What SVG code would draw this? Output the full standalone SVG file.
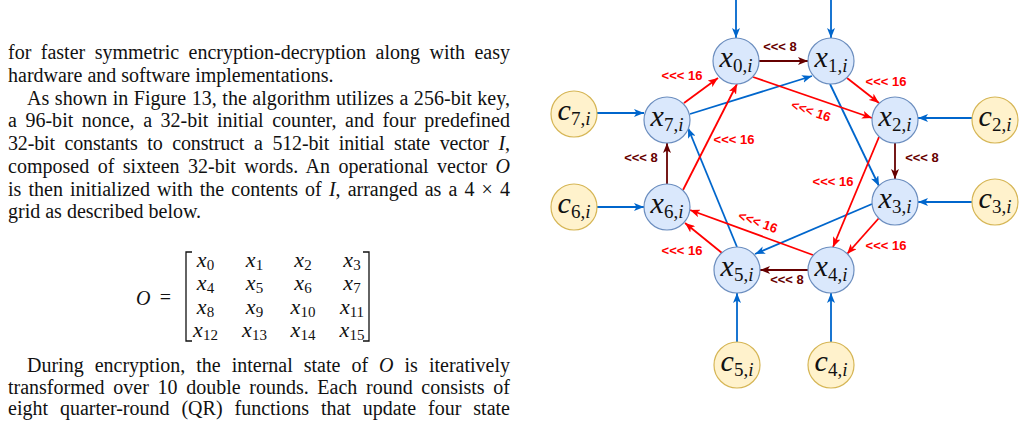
<svg xmlns="http://www.w3.org/2000/svg" width="1025" height="422" viewBox="0 0 1025 422">
<style>
.body{font-family:"Liberation Serif","Times New Roman",serif;font-size:20px;fill:#111}
.it{font-style:italic}
.mx{font-family:"Liberation Serif","Times New Roman",serif;font-size:22px;font-style:italic;fill:#111;text-anchor:middle}
.ms{font-size:15px;font-style:normal}
.xn{fill:#dae8fc;stroke:#6c8ebf;stroke-width:1.2}
.cn{fill:#fff2cc;stroke:#d6b656;stroke-width:1.2}
.nl{font-family:"Liberation Serif","Times New Roman",serif;text-anchor:middle;fill:#111}
.big{font-size:30px;font-style:italic}
.sub{font-size:19px}
.si{font-size:19px;font-style:italic}
.b{stroke:#0066cc;stroke-width:1.8;fill:none}
.r{stroke:#ff0000;stroke-width:1.8;fill:none}
.d{stroke:#660000;stroke-width:1.8;fill:none}
.l16{font-family:"Liberation Sans",Arial,sans-serif;font-weight:bold;font-size:13px;fill:#ff0000;text-anchor:middle}
.l8{font-family:"Liberation Sans",Arial,sans-serif;font-weight:bold;font-size:13px;fill:#660000;text-anchor:middle}
</style>
<defs>
<marker id="ab" viewBox="0 0 10 8" refX="10" refY="4" markerWidth="10" markerHeight="8" markerUnits="userSpaceOnUse" orient="auto"><path d="M0,0 L10,4 L0,8 L2.5,4 Z" fill="#0066cc"/></marker>
<marker id="ar" viewBox="0 0 10 8" refX="10" refY="4" markerWidth="10" markerHeight="8" markerUnits="userSpaceOnUse" orient="auto"><path d="M0,0 L10,4 L0,8 L2.5,4 Z" fill="#ff0000"/></marker>
<marker id="ad" viewBox="0 0 10 8" refX="10" refY="4" markerWidth="10" markerHeight="8" markerUnits="userSpaceOnUse" orient="auto"><path d="M0,0 L10,4 L0,8 L2.5,4 Z" fill="#660000"/></marker>
</defs>
<rect width="1025" height="422" fill="#fff"/>

<g id="text">
<text class="body" x="8" y="59" word-spacing="4.5" textLength="502" lengthAdjust="spacing">for faster symmetric encryption-decryption along with easy</text>
<text class="body" x="8" y="81.6">hardware and software implementations.</text>
<text class="body" x="27" y="104.6" word-spacing="0.5" textLength="483" lengthAdjust="spacing">As shown in Figure 13, the algorithm utilizes a 256-bit key,</text>
<text class="body" x="8" y="127.4" word-spacing="3.5" textLength="502" lengthAdjust="spacing">a 96-bit nonce, a 32-bit initial counter, and four predefined</text>
<text class="body" x="8" y="150.2" word-spacing="4.9" textLength="502" lengthAdjust="spacing">32-bit constants to construct a 512-bit initial state vector <tspan class="it">I</tspan>,</text>
<text class="body" x="8" y="173" word-spacing="3.4" textLength="502" lengthAdjust="spacing">composed of sixteen 32-bit words. An operational vector <tspan class="it">O</tspan></text>
<text class="body" x="8" y="195.8" word-spacing="2.1" textLength="502" lengthAdjust="spacing">is then initialized with the contents of <tspan class="it">I</tspan>, arranged as a 4 × 4</text>
<text class="body" x="8" y="218.4">grid as described below.</text>
<text class="body" x="27" y="372" word-spacing="6" textLength="483" lengthAdjust="spacing">During encryption, the internal state of <tspan class="it">O</tspan> is iteratively</text>
<text class="body" x="8" y="393.5" word-spacing="3.7" textLength="502" lengthAdjust="spacing">transformed over 10 double rounds. Each round consists of</text>
<text class="body" x="8" y="415" word-spacing="6.9" textLength="502" lengthAdjust="spacing">eight quarter-round (QR) functions that update four state</text>
</g>

<g id="matrix">
<text class="body it" x="136" y="305" font-size="22">O</text>
<text class="body" x="165.5" y="304" text-anchor="middle" font-size="25">=</text>
<path d="M192,252 H186 V341 H192 M363,252 H369 V341 H363" fill="none" stroke="#111" stroke-width="1.3"/>
<text class="mx" x="205.5" y="267">x<tspan class="ms" dy="3">0</tspan></text>
<text class="mx" x="254.5" y="267">x<tspan class="ms" dy="3">1</tspan></text>
<text class="mx" x="303" y="267">x<tspan class="ms" dy="3">2</tspan></text>
<text class="mx" x="352" y="267">x<tspan class="ms" dy="3">3</tspan></text>
<text class="mx" x="205.5" y="290.3">x<tspan class="ms" dy="3">4</tspan></text>
<text class="mx" x="254.5" y="290.3">x<tspan class="ms" dy="3">5</tspan></text>
<text class="mx" x="303" y="290.3">x<tspan class="ms" dy="3">6</tspan></text>
<text class="mx" x="352" y="290.3">x<tspan class="ms" dy="3">7</tspan></text>
<text class="mx" x="205.5" y="313.6">x<tspan class="ms" dy="3">8</tspan></text>
<text class="mx" x="254.5" y="313.6">x<tspan class="ms" dy="3">9</tspan></text>
<text class="mx" x="303" y="313.6">x<tspan class="ms" dy="3">10</tspan></text>
<text class="mx" x="352" y="313.6">x<tspan class="ms" dy="3">11</tspan></text>
<text class="mx" x="205.5" y="337">x<tspan class="ms" dy="3">12</tspan></text>
<text class="mx" x="254.5" y="337">x<tspan class="ms" dy="3">13</tspan></text>
<text class="mx" x="303" y="337">x<tspan class="ms" dy="3">14</tspan></text>
<text class="mx" x="352" y="337">x<tspan class="ms" dy="3">15</tspan></text>
</g>

<g id="connectors">
<line class="b" x1="736" y1="0" x2="736" y2="38" marker-end="url(#ab)"/>
<line class="b" x1="831" y1="0" x2="831" y2="38" marker-end="url(#ab)"/>
<line class="b" x1="597" y1="113" x2="644" y2="113" marker-end="url(#ab)"/>
<line class="b" x1="597" y1="207" x2="644" y2="207" marker-end="url(#ab)"/>
<line class="b" x1="972" y1="118" x2="918" y2="118" marker-end="url(#ab)"/>
<line class="b" x1="972" y1="202" x2="918" y2="202" marker-end="url(#ab)"/>
<line class="b" x1="737" y1="342" x2="737" y2="293" marker-end="url(#ab)"/>
<line class="b" x1="831" y1="342" x2="831" y2="293" marker-end="url(#ab)"/>
<line class="b" x1="690" y1="114" x2="812" y2="76" marker-end="url(#ab)"/>
<line class="b" x1="830" y1="84" x2="879" y2="186" marker-end="url(#ab)"/>
<line class="b" x1="872" y1="204" x2="755" y2="254" marker-end="url(#ab)"/>
<line class="b" x1="737" y1="247" x2="688" y2="128" marker-end="url(#ab)"/>

<line class="d" x1="759" y1="61" x2="808" y2="61" marker-end="url(#ad)"/>
<line class="d" x1="895" y1="143" x2="895" y2="179" marker-end="url(#ad)"/>
<line class="d" x1="808" y1="270" x2="760" y2="270" marker-end="url(#ad)"/>
<line class="d" x1="667" y1="184" x2="667" y2="143" marker-end="url(#ad)"/>

<line class="r" x1="684" y1="103" x2="718" y2="78" marker-end="url(#ar)"/>
<line class="r" x1="753" y1="77" x2="872" y2="118" marker-end="url(#ar)"/>
<line class="r" x1="847" y1="78" x2="879" y2="103" marker-end="url(#ar)"/>
<line class="r" x1="879" y1="137" x2="833" y2="247" marker-end="url(#ar)"/>
<line class="r" x1="879" y1="218" x2="847" y2="254" marker-end="url(#ar)"/>
<line class="r" x1="813" y1="255" x2="690" y2="210" marker-end="url(#ar)"/>
<line class="r" x1="722" y1="253" x2="685" y2="223" marker-end="url(#ar)"/>
<line class="r" x1="683" y1="190" x2="737" y2="84" marker-end="url(#ar)"/>

<text class="l8" x="780" y="51">&lt;&lt;&lt; 8</text>
<text class="l8" x="922" y="162">&lt;&lt;&lt; 8</text>
<text class="l8" x="787" y="284">&lt;&lt;&lt; 8</text>
<text class="l8" x="641" y="162">&lt;&lt;&lt; 8</text>
<text class="l16" x="682" y="80">&lt;&lt;&lt; 16</text>
<text class="l16" x="886" y="86">&lt;&lt;&lt; 16</text>
<text class="l16" x="734" y="144">&lt;&lt;&lt; 16</text>
<text class="l16" x="833" y="186">&lt;&lt;&lt; 16</text>
<text class="l16" x="682" y="255">&lt;&lt;&lt; 16</text>
<text class="l16" x="886" y="250">&lt;&lt;&lt; 16</text>
<text class="l16" transform="translate(811,111) rotate(19)" x="0" y="4.5">&lt;&lt;&lt; 16</text>
<text class="l16" transform="translate(758,222) rotate(20)" x="0" y="4.5">&lt;&lt;&lt; 16</text>
</g>

<g id="x0"><circle class="xn" cx="736" cy="61" r="23"/><text class="nl" x="736" y="67"><tspan class="big">x</tspan><tspan class="sub" dy="5">0,</tspan><tspan class="si">i</tspan></text></g>
<g id="x1"><circle class="xn" cx="831" cy="61" r="23"/><text class="nl" x="831" y="67"><tspan class="big">x</tspan><tspan class="sub" dy="5">1,</tspan><tspan class="si">i</tspan></text></g>
<g id="x2"><circle class="xn" cx="895" cy="120" r="23"/><text class="nl" x="895" y="126"><tspan class="big">x</tspan><tspan class="sub" dy="5">2,</tspan><tspan class="si">i</tspan></text></g>
<g id="x3"><circle class="xn" cx="895" cy="202" r="23"/><text class="nl" x="895" y="208"><tspan class="big">x</tspan><tspan class="sub" dy="5">3,</tspan><tspan class="si">i</tspan></text></g>
<g id="x4"><circle class="xn" cx="831" cy="270" r="23"/><text class="nl" x="831" y="276"><tspan class="big">x</tspan><tspan class="sub" dy="5">4,</tspan><tspan class="si">i</tspan></text></g>
<g id="x5"><circle class="xn" cx="737" cy="270" r="23"/><text class="nl" x="737" y="276"><tspan class="big">x</tspan><tspan class="sub" dy="5">5,</tspan><tspan class="si">i</tspan></text></g>
<g id="x6"><circle class="xn" cx="667" cy="207" r="23"/><text class="nl" x="667" y="213"><tspan class="big">x</tspan><tspan class="sub" dy="5">6,</tspan><tspan class="si">i</tspan></text></g>
<g id="x7"><circle class="xn" cx="667" cy="120" r="23"/><text class="nl" x="667" y="126"><tspan class="big">x</tspan><tspan class="sub" dy="5">7,</tspan><tspan class="si">i</tspan></text></g>

<g id="c7"><circle class="cn" cx="574" cy="114" r="23"/><text class="nl" x="574" y="120"><tspan class="big">c</tspan><tspan class="sub" dy="5">7,</tspan><tspan class="si">i</tspan></text></g>
<g id="c6"><circle class="cn" cx="574" cy="207" r="23"/><text class="nl" x="574" y="213"><tspan class="big">c</tspan><tspan class="sub" dy="5">6,</tspan><tspan class="si">i</tspan></text></g>
<g id="c2"><circle class="cn" cx="995" cy="120" r="23"/><text class="nl" x="995" y="126"><tspan class="big">c</tspan><tspan class="sub" dy="5">2,</tspan><tspan class="si">i</tspan></text></g>
<g id="c3"><circle class="cn" cx="995" cy="202" r="23"/><text class="nl" x="995" y="208"><tspan class="big">c</tspan><tspan class="sub" dy="5">3,</tspan><tspan class="si">i</tspan></text></g>
<g id="c5"><circle class="cn" cx="737" cy="365" r="23"/><text class="nl" x="737" y="371"><tspan class="big">c</tspan><tspan class="sub" dy="5">5,</tspan><tspan class="si">i</tspan></text></g>
<g id="c4"><circle class="cn" cx="831" cy="365" r="23"/><text class="nl" x="831" y="371"><tspan class="big">c</tspan><tspan class="sub" dy="5">4,</tspan><tspan class="si">i</tspan></text></g>
</svg>
